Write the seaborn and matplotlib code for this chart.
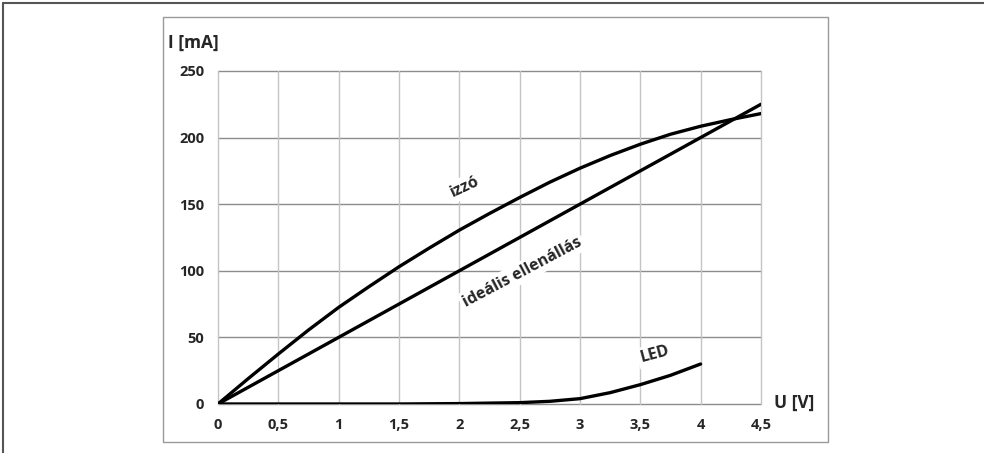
import matplotlib
matplotlib.use("Agg")
import matplotlib.pyplot as plt
import seaborn as sns
import pandas as pd
from matplotlib.patches import Rectangle
from matplotlib.lines import Line2D

# feszültség (V) és áram (mA) értékek
u_izzo = [0, 0.25, 0.5, 0.75, 1, 1.25, 1.5, 1.75, 2, 2.25, 2.5, 2.75, 3, 3.25, 3.5, 3.75, 4, 4.25, 4.5]
i_izzo = [0, 19, 37.5, 55.5, 72.5, 88, 103, 117, 130.5, 143, 155, 166.5, 177, 186.5, 195, 202.5, 208.5, 213.5, 218]

u_ellenallas = [0, 4.5]
i_ellenallas = [0, 225]

u_led = [0, 0.5, 1, 1.5, 2, 2.5, 2.75, 3, 3.25, 3.5, 3.75, 4]
i_led = [0, 0, 0, 0, 0.3, 1, 2, 4, 8.5, 14.5, 21.5, 30]

x_ticks = [0, 0.5, 1, 1.5, 2, 2.5, 3, 3.5, 4, 4.5]
x_tick_labels = ["0", "0,5", "1", "1,5", "2", "2,5", "3", "3,5", "4", "4,5"]
y_ticks = [0, 50, 100, 150, 200, 250]

sns.set_style("white")
plt.rcParams["font.family"] = ["Open Sans", "DejaVu Sans"]
plt.rcParams["font.weight"] = "bold"

fig = plt.figure(figsize=(9.84, 4.53), dpi=100)

# keretek
fig.add_artist(Line2D([0.003, 1.0], [0.993, 0.993], color="#555555", lw=1.5, transform=fig.transFigure))
fig.add_artist(Line2D([0.003, 0.003], [0.0, 0.993], color="#555555", lw=1.5, transform=fig.transFigure))
fig.add_artist(Rectangle((0.1657, 0.0243), 0.6758, 0.938, fill=False,
                         edgecolor="#999999", lw=1.0, transform=fig.transFigure))

ax = fig.add_axes([0.2215, 0.1082, 0.5518, 0.7351])

df_izzo = pd.DataFrame({"U": u_izzo, "I": i_izzo})
df_ell = pd.DataFrame({"U": u_ellenallas, "I": i_ellenallas})
df_led = pd.DataFrame({"U": u_led, "I": i_led})

for d in (df_izzo, df_ell, df_led):
    sns.lineplot(data=d, x="U", y="I", ax=ax, color="black", linewidth=2.4,
                 estimator=None, sort=False, zorder=5)

ax.set_xlim(0, 4.5)
ax.set_ylim(0, 250)
ax.set_xticks(x_ticks)
ax.set_xticklabels(x_tick_labels)
ax.set_yticks(y_ticks)
ax.set_xlabel("")
ax.set_ylabel("")
ax.tick_params(axis="both", labelsize=10.5, length=4, color="#999999", pad=6)
for lab in ax.get_xticklabels() + ax.get_yticklabels():
    lab.set_fontweight("bold")

ax.grid(False)
for yv in y_ticks:
    ax.axhline(yv, color="#8c8c8c", lw=1.0, zorder=1, clip_on=False)
for xv in x_ticks:
    ax.axvline(xv, color="#c4c4c4", lw=1.0, zorder=1, clip_on=False)
for s in ax.spines.values():
    s.set_visible(False)

box = dict(facecolor="white", edgecolor="none", pad=2)
ax.text(2.05, 163, "izzó", rotation=25, ha="center", va="center", fontsize=11.5,
        fontweight="bold", bbox=box, zorder=4)
ax.text(2.52, 99, "ideális ellenállás", rotation=28, ha="center", va="center",
        fontsize=11.5, fontweight="bold", bbox=box, zorder=4)
ax.text(3.62, 37, "LED", rotation=15, ha="center", va="center", fontsize=11.5,
        fontweight="bold", bbox=box, zorder=4)

fig.text(0.171, 0.905, "I [mA]", fontsize=12.5, fontweight="bold", ha="left", va="center")
fig.text(0.787, 0.11, "U [V]", fontsize=12.5, fontweight="bold", ha="left", va="center")

fig.savefig("out.png", dpi=100)
